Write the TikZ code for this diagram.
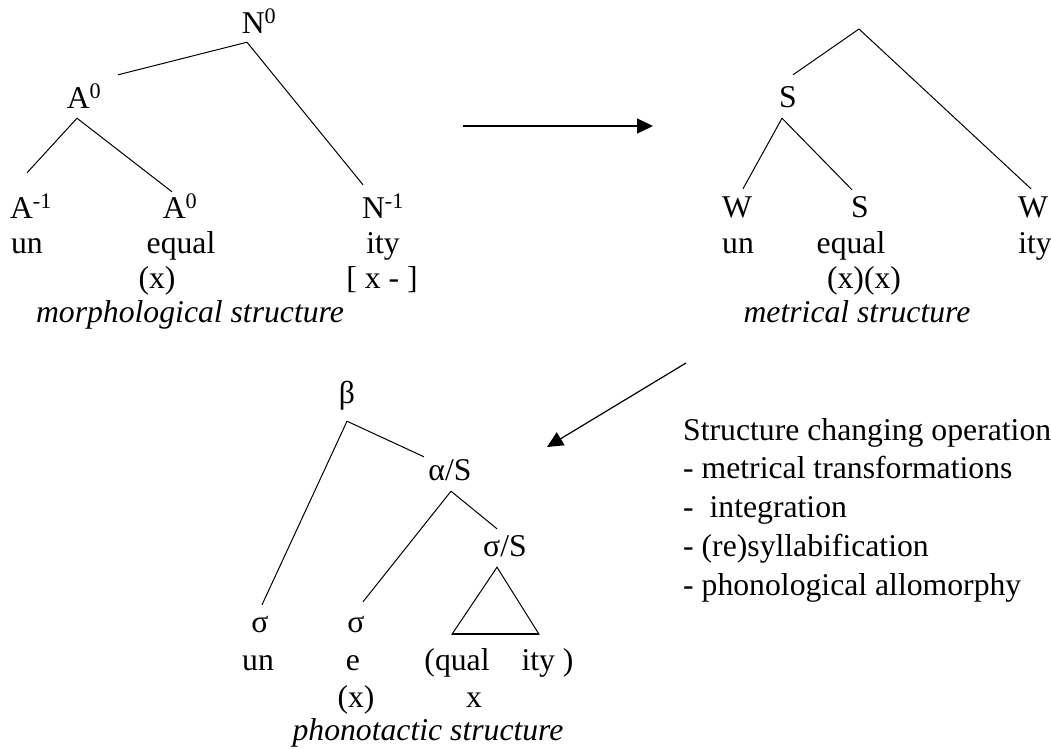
\documentclass[tikz,border=0pt]{standalone}
\usepackage{fontspec}
\setmainfont{Liberation Serif}
\usetikzlibrary{arrows.meta}
\begin{document}
\begin{tikzpicture}[x=1pt,y=-1pt]
  \tikzstyle{lbl}=[inner sep=0pt, anchor=base, text height=21pt, text depth=0pt, font=\fontsize{31.7}{38.7}\selectfont]
  \tikzstyle{wrd}=[inner sep=0pt, anchor=base, font=\fontsize{31.7}{38.7}\selectfont]
  \tikzstyle{struct}=[inner sep=0pt, anchor=base, font=\fontsize{31.7}{38.7}\selectfont\itshape]
  \tikzstyle{edge}=[line width=1pt]
  \tikzstyle{arr}=[line width=1.2pt, -{Triangle[length=16pt,width=15pt]}]
  \useasboundingbox (0,0) rectangle (1051,748);

  % morphological structure
  \node[lbl] (n0) at (259,33) {N\textsuperscript{0}};
  \node[lbl] (a0) at (84,108) {A\textsuperscript{0}};
  \node[lbl] (am1) at (31,218) {A\textsuperscript{-1}};
  \node[lbl] (a0b) at (180,218) {A\textsuperscript{0}};
  \node[lbl] (nm1) at (383,218) {N\textsuperscript{-1}};
  \node[wrd] (un1) at (27,253) {un};
  \node[wrd] (eq1) at (181,253) {equal};
  \node[wrd] (ity1) at (383,253) {ity};
  \node[wrd] (gx1) at (157,288) {(x)};
  \node[wrd] (gx2) at (382,288) {[ x - ]};
  \node[struct] (morph) at (190,322) {morphological structure};
  \draw[edge] ([shift={(-12,9)}]n0.south) -- ([shift={(34,-12)}]a0.north);
  \draw[edge] ([shift={(-12,9)}]n0.south) -- ([shift={(-20,-12)}]nm1.north);
  \draw[edge] ([shift={(-7,10)}]a0.south) -- ([shift={(-4,-24)}]am1.north);
  \draw[edge] ([shift={(-7,10)}]a0.south) -- ([shift={(-8,-5)}]a0b.north);

  % metrical structure
  \coordinate (mtop) at (859,29);
  \node[lbl] (ms) at (788,107) {S};
  \node[lbl] (mw1) at (737,217) {W};
  \node[lbl] (ms2) at (860,217) {S};
  \node[lbl] (mw2) at (1033,217) {W};
  \node[wrd] (un2) at (738,253) {un};
  \node[wrd] (eq2) at (851,253) {equal};
  \node[wrd] (ity2) at (1035,253) {ity};
  \node[wrd] (gx3) at (864,288) {(x)(x)};
  \node[struct] (metr) at (857,322) {metrical structure};
  \draw[edge] (mtop) -- ([shift={(5,-11)}]ms.north);
  \draw[edge] (mtop) -- ([shift={(-2,-7)}]mw2.north);
  \draw[edge] ([shift={(-6,11)}]ms.south) -- ([shift={(6,-7)}]mw1.north);
  \draw[edge] ([shift={(-6,11)}]ms.south) -- ([shift={(-8,-6)}]ms2.north);

  % setas
  \coordinate (h1) at (463,126);
  \coordinate (h2) at (653,126);
  \draw[arr] (h1) -- (h2);
  \coordinate (d1) at (686,363);
  \coordinate (d2) at (547,447);
  \draw[arr] (d1) -- (d2);

  % phonotactic structure
  \node[lbl] (beta) at (347,403) {β};
  \node[lbl] (as) at (450,480) {α/S};
  \node[lbl] (ss) at (505,556) {σ/S};
  \node[lbl] (sg1) at (260,632) {σ};
  \node[lbl] (sg2) at (356,632) {σ};
  \node[wrd] (un3) at (258,670) {un};
  \node[wrd] (e3) at (353,670) {e};
  \node[wrd] (qi) at (499,670) {(qual\hspace{32pt}ity )};
  \node[wrd] (gx4) at (356,707) {(x)};
  \node[wrd] (gx5) at (474,707) {x};
  \node[struct] (phon) at (428,740) {phonotactic structure};
  \draw[edge] ([shift={(0,18)}]beta.south) -- ([shift={(2,-6)}]sg1.north);
  \draw[edge] ([shift={(0,18)}]beta.south) -- ([shift={(-26,-2)}]as.north);
  \draw[edge] ([shift={(1,11)}]as.south) -- ([shift={(7,-9)}]sg2.north);
  \draw[edge] ([shift={(1,11)}]as.south) -- ([shift={(-8,-6)}]ss.north);
  \draw[edge] ([shift={(-8,11)}]ss.south) coordinate (tri) -- ++(-45,67) coordinate (trl) -- ++(87,0) coordinate (trr) -- cycle;
  \draw[line width=2pt] (trl) -- (trr);

  % operacoes
  \foreach \t [count=\i from 0] in {{Structure changing operation},{- metrical transformations},{-\ \ integration},{- (re)syllabification},{- phonological allomorphy}} {
    \node[wrd, anchor=base west] (op\i) at (683,{440+\i*38.75}) {\t};
  }
\end{tikzpicture}
\end{document}
